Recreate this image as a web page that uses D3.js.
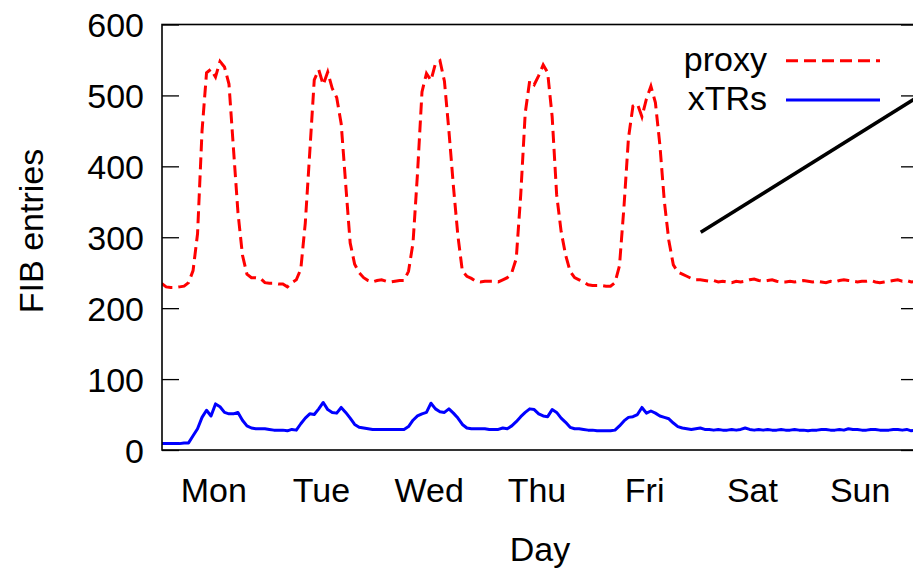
<!DOCTYPE html>
<html>
<head>
<meta charset="utf-8">
<script src="https://cdn.jsdelivr.net/npm/d3@7/dist/d3.min.js"></script>
<style>
    body { margin: 0; background: #fff; }
    text { font-family: "Liberation Sans", Arial, sans-serif; }
</style>
</head>
<body>
<svg id="fibChart"></svg>
<script>
// hourly FIB entries, Mon 00:30 .. Sun 24:30
var proxyValues = [
    // Mon
    235, 230, 229, 229, 230, 231, 236, 253, 305, 450, 532, 537, 526, 548, 540, 516, 425, 335, 275, 248, 243, 243, 242, 236,
    // Tue
    235, 235, 234, 234, 230, 236, 240, 255, 320, 420, 522, 536, 515, 533, 510, 497, 460, 375, 292, 262, 250, 243, 239, 237,
    // Wed
    239, 240, 238, 237, 238, 239, 239, 252, 292, 390, 505, 531, 521, 545, 549, 520, 450, 372, 302, 252, 245, 242, 238, 237,
    // Thu
    238, 238, 238, 237, 240, 243, 250, 270, 360, 475, 521, 515, 528, 543, 532, 470, 360, 308, 275, 252, 243, 240, 237, 233,
    // Fri
    232, 232, 232, 231, 231, 236, 260, 343, 440, 485, 488, 470, 495, 513, 490, 430, 350, 295, 261, 251, 248, 245, 242, 240,
    // Sat + Sun
    240, 239, 238, 239, 237, 238, 237, 236, 238, 237, 238, 240, 241, 239, 238, 239, 240, 238, 237, 237, 238, 237, 238, 239,
    238, 237, 238, 237, 236, 238, 237, 239, 240, 239, 238, 237, 238, 238, 239, 237, 236, 237, 238, 239, 240, 238, 239, 237, 238
];

var xtrValues = [
    // Mon
    9, 9, 9, 9, 9, 10, 10, 20, 30, 46, 56, 48, 65, 61, 53, 51, 51, 53, 42, 34, 31, 30, 30, 30,
    // Tue
    29, 28, 28, 28, 27, 29, 28, 37, 45, 51, 50, 58, 67, 57, 53, 52, 60, 53, 45, 36, 32, 31, 30, 29,
    // Wed
    29, 29, 29, 29, 29, 29, 29, 33, 42, 48, 51, 53, 66, 58, 54, 53, 58, 52, 45, 36, 31, 30, 30, 30,
    // Thu
    30, 29, 29, 29, 31, 30, 34, 40, 47, 53, 58, 57, 51, 48, 47, 57, 53, 45, 39, 32, 30, 30, 29, 28,
    // Fri
    28, 27, 27, 27, 27, 28, 34, 41, 46, 47, 50, 60, 52, 55, 52, 48, 46, 44, 38, 33, 31, 30, 29, 30,
    // Sat + Sun
    31, 29, 29, 28, 29, 28, 28, 29, 28, 29, 31, 29, 28, 29, 28, 29, 28, 28, 29, 28, 28, 29, 28, 28,
    27, 28, 28, 29, 29, 28, 28, 29, 28, 30, 29, 29, 28, 28, 29, 29, 28, 28, 28, 29, 29, 28, 29, 27, 28
];

var dayLabels = ['Mon', 'Tue', 'Wed', 'Thu', 'Fri', 'Sat', 'Sun'];
var yTicks = [0, 100, 200, 300, 400, 500, 600];

// black arrow line: [hour, entries]
var arrowLine = [[120.6, 307], [169.5, 500]];

var seriesNames = ['proxy', 'xTRs'];

var width = 913, height = 568;
var margin = {left: 162, top: 24.5, right: 918, bottom: 450};
var fontSize = 34;

var svg = d3.select('#fibChart')
    .attr('width', width)
    .attr('height', height);

var xScale = d3.scaleLinear().domain([0, 168]).range([159.4, 913.5]);
var yScale = d3.scaleLinear().domain([0, 600]).range([margin.bottom, margin.top]);

svg.append('clipPath')
    .attr('id', 'plotClip')
    .append('rect')
    .attr('x', margin.left)
    .attr('y', margin.top)
    .attr('width', margin.right - margin.left)
    .attr('height', margin.bottom - margin.top);

// y axis left (ticks inward)
var gy = svg.append('g')
    .attr('transform', 'translate(' + margin.left + ',0)')
    .call(d3.axisLeft(yScale).tickValues(yTicks).tickSize(-17).tickPadding(18));
gy.select('.domain').remove();
gy.selectAll('line').attr('stroke', '#000').attr('stroke-width', 1.3);
gy.selectAll('text')
    .style('font-size', fontSize + 'px')
    .attr('fill', '#000')
    .attr('dy', '0.36em');

// mirror ticks on the right
var gyR = svg.append('g')
    .attr('transform', 'translate(' + margin.right + ',0)')
    .call(d3.axisRight(yScale).tickValues(yTicks).tickSize(-17).tickFormat(''));
gyR.select('.domain').remove();
gyR.selectAll('line').attr('stroke', '#000').attr('stroke-width', 1.3);

// x axis: day names, no ticks
var gx = svg.append('g')
    .attr('transform', 'translate(0,' + margin.bottom + ')')
    .call(d3.axisBottom(xScale)
        .tickValues(dayLabels.map(function(d, i) { return i * 24 + 12; }))
        .tickFormat(function(d, i) { return dayLabels[i]; })
        .tickSize(0)
        .tickPadding(28));
gx.select('.domain').remove();
gx.selectAll('text')
    .style('font-size', fontSize + 'px')
    .attr('fill', '#000');

// lines
var line = d3.line()
    .x(function(d, i) { return xScale(i + 0.5); })
    .y(function(d) { return yScale(d); });

var plot = svg.append('g').attr('clip-path', 'url(#plotClip)');

plot.append('path')
    .datum(xtrValues)
    .attr('d', line)
    .attr('fill', 'none')
    .attr('stroke', '#0000ff')
    .attr('stroke-width', 3)
    .attr('stroke-linejoin', 'round');

plot.append('path')
    .datum(proxyValues)
    .attr('d', line)
    .attr('fill', 'none')
    .attr('stroke', '#ff0000')
    .attr('stroke-width', 3)
    .attr('stroke-dasharray', '12,6');

svg.append('line')
    .attr('x1', xScale(arrowLine[0][0]))
    .attr('y1', yScale(arrowLine[0][1]))
    .attr('x2', xScale(arrowLine[1][0]))
    .attr('y2', yScale(arrowLine[1][1]))
    .attr('stroke', '#000')
    .attr('stroke-width', 3.5);

// frame
svg.append('rect')
    .attr('x', margin.left)
    .attr('y', margin.top)
    .attr('width', margin.right - margin.left)
    .attr('height', margin.bottom - margin.top)
    .attr('fill', 'none')
    .attr('stroke', '#000')
    .attr('stroke-width', 1.6);

// legend
var legend = svg.append('g');
var legendStyles = [
    {color: '#ff0000', dash: '12,6', y: 60.7},
    {color: '#0000ff', dash: null, y: 100}
];
seriesNames.forEach(function(name, i) {
    legend.append('text')
        .attr('x', 767)
        .attr('y', legendStyles[i].y + 10)
        .attr('text-anchor', 'end')
        .style('font-size', fontSize + 'px')
        .text(name);
    legend.append('line')
        .attr('x1', 786)
        .attr('x2', 880)
        .attr('y1', legendStyles[i].y)
        .attr('y2', legendStyles[i].y)
        .attr('stroke', legendStyles[i].color)
        .attr('stroke-width', 3)
        .attr('stroke-dasharray', legendStyles[i].dash);
});

// axis labels
svg.append('text')
    .attr('x', (margin.left + margin.right) / 2)
    .attr('y', 561)
    .attr('text-anchor', 'middle')
    .style('font-size', fontSize + 'px')
    .text('Day');

svg.append('text')
    .attr('transform', 'translate(43,231) rotate(-90)')
    .attr('text-anchor', 'middle')
    .style('font-size', fontSize + 'px')
    .text('FIB entries');
</script>
</body>
</html>
